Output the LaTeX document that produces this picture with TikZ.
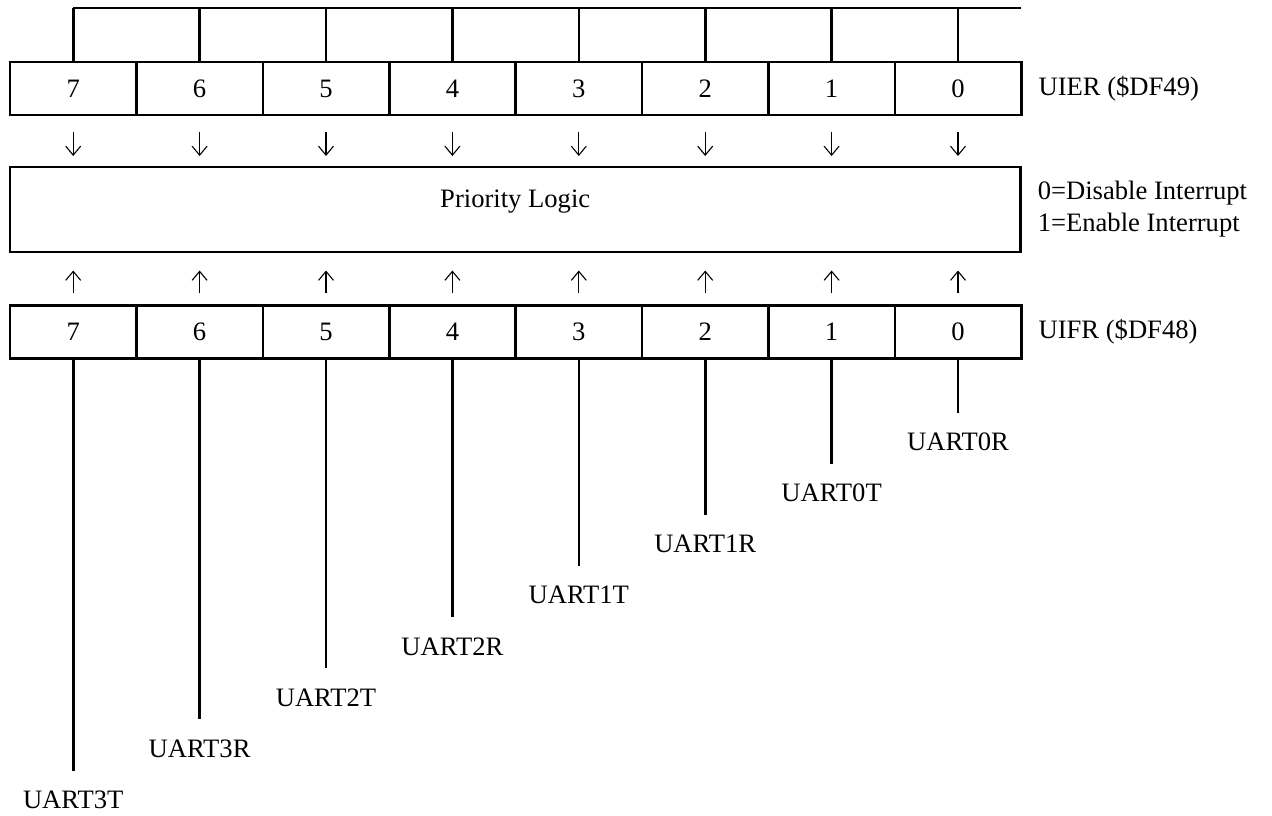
\documentclass[tikz,border=0pt]{standalone}
\usepackage{fontspec}
\setmainfont{Liberation Serif}
\usetikzlibrary{positioning, arrows.meta}

\tikzset{
	bitcell/.style={draw, line width=1.3pt, minimum width=63.2pt, minimum height=26.5pt, inner sep=0pt, outer sep=0pt},
	wire/.style={line width=1.3pt},
	flow/.style={line width=0.55pt, -{Straight Barb[length=4.5pt, width=7.5pt, line width=0.55pt]}},
	lbl/.style={inner sep=0pt},
}

\begin{document}
\begin{tikzpicture}[x=0.5pt, y=-0.5pt, font=\fontsize{13.3}{16}\selectfont]
	\useasboundingbox (0,0) rectangle (1272,815);

	% UIER register

	\node[bitcell] (e7) at (73.2,88.5) {7};
	\node[bitcell, right=0pt of e7] (e6) {6};
	\node[bitcell, right=0pt of e6] (e5) {5};
	\node[bitcell, right=0pt of e5] (e4) {4};
	\node[bitcell, right=0pt of e4] (e3) {3};
	\node[bitcell, right=0pt of e3] (e2) {2};
	\node[bitcell, right=0pt of e2] (e1) {1};
	\node[bitcell, right=0pt of e1] (e0) {0};
	\node[lbl, right=8.5pt of e0] (uier) {UIER (\$DF49)};

	% Bracket on top
	\coordinate (t7) at (73.2,8);
	\draw[wire] (t7) -- (t7 -| e0.east);
	\draw[wire] (e7.north) -- (e7.north |- t7);
	\draw[wire] (e6.north) -- (e6.north |- t7);
	\draw[wire] (e5.north) -- (e5.north |- t7);
	\draw[wire] (e4.north) -- (e4.north |- t7);
	\draw[wire] (e3.north) -- (e3.north |- t7);
	\draw[wire] (e2.north) -- (e2.north |- t7);
	\draw[wire] (e1.north) -- (e1.north |- t7);
	\draw[wire] (e0.north) -- (e0.north |- t7);

	% Enable arrows
	\draw[flow] ([yshift=-8.5pt]e7.south) -- ([yshift=-20.5pt]e7.south);
	\draw[flow] ([yshift=-8.5pt]e6.south) -- ([yshift=-20.5pt]e6.south);
	\draw[flow] ([yshift=-8.5pt]e5.south) -- ([yshift=-20.5pt]e5.south);
	\draw[flow] ([yshift=-8.5pt]e4.south) -- ([yshift=-20.5pt]e4.south);
	\draw[flow] ([yshift=-8.5pt]e3.south) -- ([yshift=-20.5pt]e3.south);
	\draw[flow] ([yshift=-8.5pt]e2.south) -- ([yshift=-20.5pt]e2.south);
	\draw[flow] ([yshift=-8.5pt]e1.south) -- ([yshift=-20.5pt]e1.south);
	\draw[flow] ([yshift=-8.5pt]e0.south) -- ([yshift=-20.5pt]e0.south);

	% Priority logic
	\node[bitcell, minimum width=505.2pt, minimum height=42.5pt] (logic) at (515.2,209.5) {};
	\node[lbl, anchor=base] (pltext) at ([yshift=-20pt]logic.north) {Priority Logic};
	\node[lbl, align=left, right=8.5pt of logic] (legend) {0=Disable Interrupt\\1=Enable Interrupt};

	% UIFR register

	\node[bitcell] (f7) at (73.2,332) {7};
	\node[bitcell, right=0pt of f7] (f6) {6};
	\node[bitcell, right=0pt of f6] (f5) {5};
	\node[bitcell, right=0pt of f5] (f4) {4};
	\node[bitcell, right=0pt of f4] (f3) {3};
	\node[bitcell, right=0pt of f3] (f2) {2};
	\node[bitcell, right=0pt of f2] (f1) {1};
	\node[bitcell, right=0pt of f1] (f0) {0};
	\node[lbl, right=8.5pt of f0] (uifr) {UIFR (\$DF48)};

	% Flag arrows
	\draw[flow] ([yshift=6.5pt]f7.north) -- ([yshift=17.5pt]f7.north);
	\draw[flow] ([yshift=6.5pt]f6.north) -- ([yshift=17.5pt]f6.north);
	\draw[flow] ([yshift=6.5pt]f5.north) -- ([yshift=17.5pt]f5.north);
	\draw[flow] ([yshift=6.5pt]f4.north) -- ([yshift=17.5pt]f4.north);
	\draw[flow] ([yshift=6.5pt]f3.north) -- ([yshift=17.5pt]f3.north);
	\draw[flow] ([yshift=6.5pt]f2.north) -- ([yshift=17.5pt]f2.north);
	\draw[flow] ([yshift=6.5pt]f1.north) -- ([yshift=17.5pt]f1.north);
	\draw[flow] ([yshift=6.5pt]f0.north) -- ([yshift=17.5pt]f0.north);

	% Sources
	\coordinate (c0) at ([yshift=-27pt]f0.south);
	\coordinate (c1) at ([yshift=-52.6pt]f1.south);
	\coordinate (c2) at ([yshift=-78.1pt]f2.south);
	\coordinate (c3) at ([yshift=-103.7pt]f3.south);
	\coordinate (c4) at ([yshift=-129.3pt]f4.south);
	\coordinate (c5) at ([yshift=-154.9pt]f5.south);
	\coordinate (c6) at ([yshift=-180.4pt]f6.south);
	\coordinate (c7) at ([yshift=-206pt]f7.south);

	\draw[wire] (f0.south) -- (c0);
	\draw[wire] (f1.south) -- (c1);
	\draw[wire] (f2.south) -- (c2);
	\draw[wire] (f3.south) -- (c3);
	\draw[wire] (f4.south) -- (c4);
	\draw[wire] (f5.south) -- (c5);
	\draw[wire] (f6.south) -- (c6);
	\draw[wire] (f7.south) -- (c7);

	\node[lbl, below=10pt of c0] (u0) {UART0R};
	\node[lbl, below=10pt of c1] (u1) {UART0T};
	\node[lbl, below=10pt of c2] (u2) {UART1R};
	\node[lbl, below=10pt of c3] (u3) {UART1T};
	\node[lbl, below=10pt of c4] (u4) {UART2R};
	\node[lbl, below=10pt of c5] (u5) {UART2T};
	\node[lbl, below=10pt of c6] (u6) {UART3R};
	\node[lbl, below=10pt of c7] (u7) {UART3T};
\end{tikzpicture}
\end{document}
